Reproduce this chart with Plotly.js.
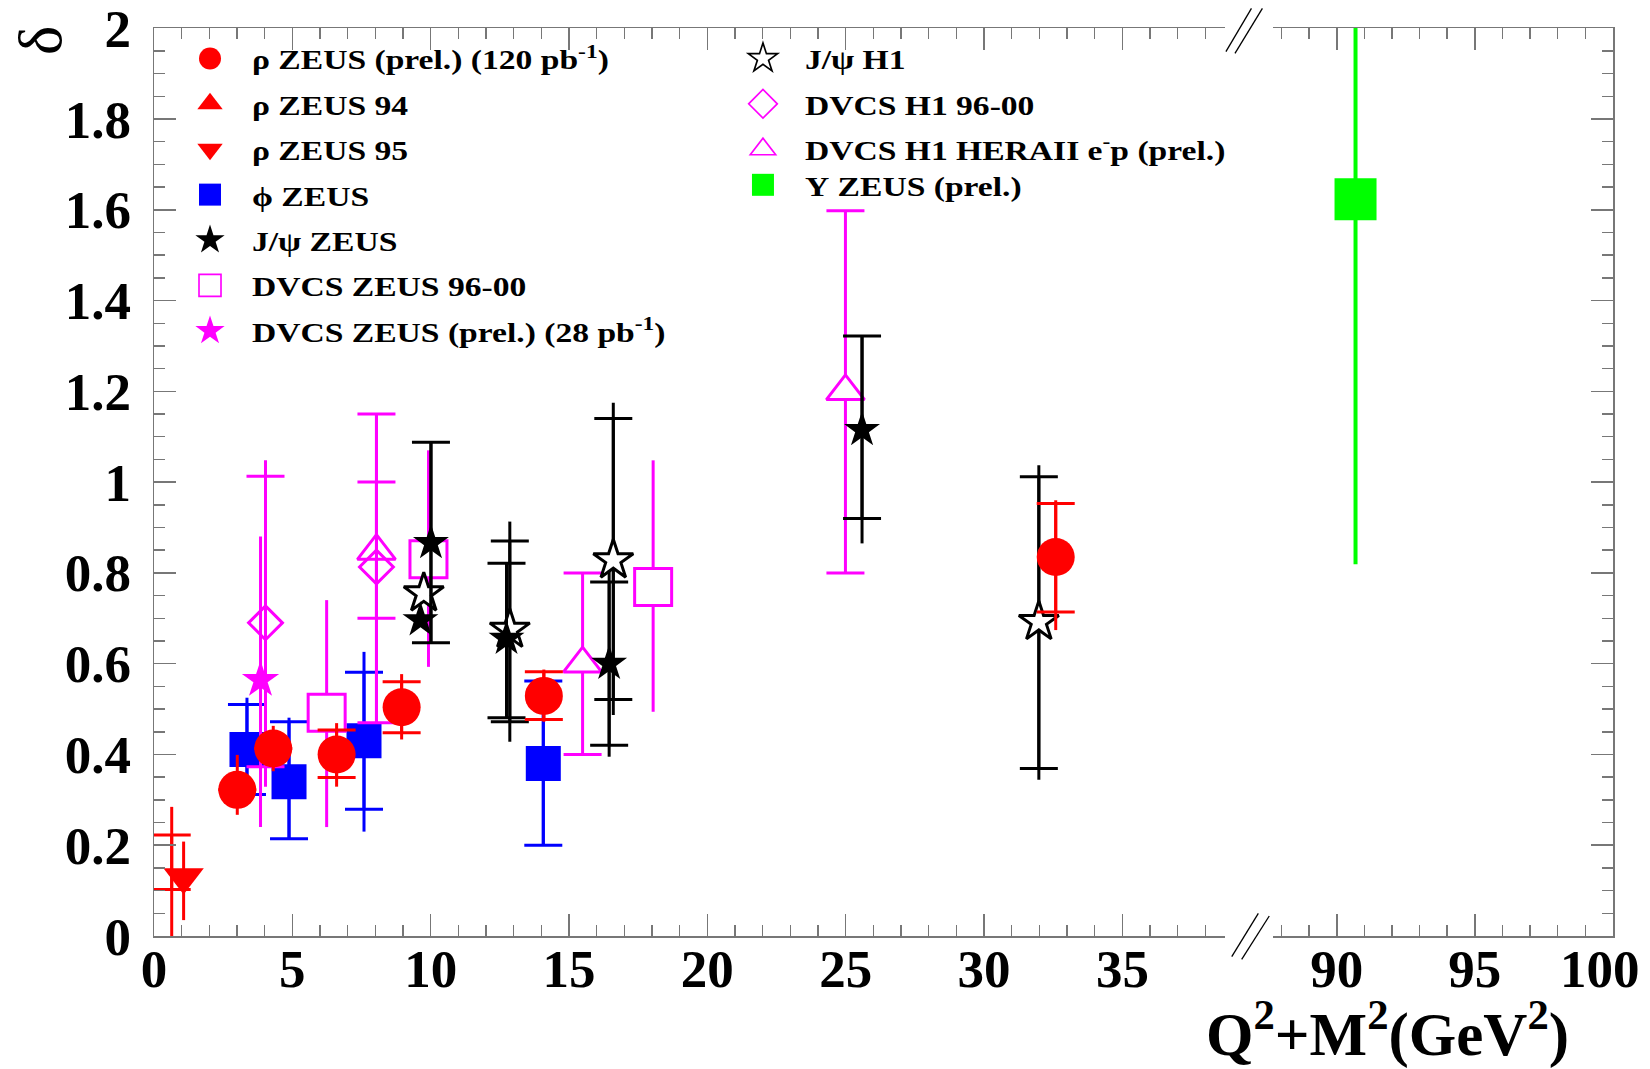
<!DOCTYPE html>
<html>
<head>
<meta charset="utf-8">
<script src="https://cdn.plot.ly/plotly-3.0.1.min.js"></script>
<style>
html, body { margin: 0; padding: 0; background: #ffffff; }
#chart { width: 1650px; height: 1069px; }
/* the reference legend lettering is set wider than plain Times */
#chart .legendtext, #chart .legend2text, #chart .legend3text {
  transform-box: fill-box; transform-origin: 0% 50%; transform: scaleX(1.2);
}
#chart .scrollbox, #chart .infolayer g[clip-path] { clip-path: none !important; }
/* larger legend symbols, as in the reference */
#chart .legendpoints path.scatterpts { transform: translate(42px, 0px) scale(1.375) !important; }
</style>
</head>
<body>
<div id="chart"></div>
<script>
// ---------------- data ----------------
// rho ZEUS (prel.) (120 pb^-1)
const rhoPrelX      = [3.01, 4.31, 6.60, 8.95, 14.09, 32.59];
const rhoPrelY      = [0.322, 0.413, 0.400, 0.504, 0.529, 0.835];
const rhoPrelStatUp = [0, 0, 0.054, 0.056, 0.053, 0.118];
const rhoPrelStatDn = [0, 0, 0.051, 0.056, 0.052, 0.121];
const rhoPrelTotUp  = [0.077, 0.050, 0.069, 0.073, 0.058, 0.125];
const rhoPrelTotDn  = [0.055, 0.050, 0.071, 0.071, 0.057, 0.161];

// rho ZEUS 94
const rho94X      = [0.64];
const rho94Y      = [0.1625];
const rho94StatUp = [0.060];
const rho94StatDn = [0.060];
const rho94TotUp  = [0.122];
const rho94TotDn  = [0.170];

// rho ZEUS 95
const rho95X     = [1.07];
const rho95Y     = [0.130];
const rho95TotUp = [0.078];
const rho95TotDn = [0.095];

// phi ZEUS
const phiX      = [3.36, 4.88, 7.59, 14.07];
const phiY      = [0.411, 0.340, 0.430, 0.380];
const phiStatUp = [0.099, 0.132, 0.151, 0.182];
const phiStatDn = [0.099, 0.126, 0.151, 0.180];
const phiTotUp  = [0.114, 0.141, 0.196, 0.182];
const phiTotDn  = [0.114, 0.126, 0.200, 0.180];

// J/psi ZEUS
const jpsiZX      = [9.63, 10.01, 12.74, 16.45, 25.59];
const jpsiZY      = [0.696, 0.866, 0.655, 0.600, 1.115];
const jpsiZStatUp = [NaN, 0.222, 0.166, 0.180, 0.207];
const jpsiZStatDn = [NaN, 0.220, 0.174, 0.180, 0.195];
const jpsiZTotUp  = [NaN, 0.222, 0.166, 0.205, 0.207];
const jpsiZTotDn  = [NaN, 0.220, 0.174, 0.205, 0.250];

// J/psi H1
const jpsiHX      = [9.75, 12.86, 16.60, 31.98];
const jpsiHY      = [0.755, 0.675, 0.828, 0.692];
const jpsiHStatUp = [NaN, 0.195, 0.312, 0.320];
const jpsiHStatDn = [NaN, 0.203, 0.307, 0.323];
const jpsiHTotUp  = [NaN, 0.238, 0.347, 0.345];
const jpsiHTotDn  = [NaN, 0.247, 0.341, 0.348];

// DVCS ZEUS 96-00
const dvcsZX     = [6.24, 9.92, 18.04];
const dvcsZY     = [0.492, 0.830, 0.769];
const dvcsZTotUp = [0.248, 0.240, 0.279];
const dvcsZTotDn = [0.252, 0.237, 0.275];

// DVCS ZEUS (prel.) (28 pb^-1)
const dvcsZPX     = [3.85];
const dvcsZPY     = [0.564];
const dvcsZPTotUp = [0.316];
const dvcsZPTotDn = [0.324];

// DVCS H1 96-00
const dvcsHX      = [4.03, 8.04];
const dvcsHY      = [0.690, 0.813];
const dvcsHStatUp = [0.323, 0.337];
const dvcsHStatDn = [0.317, 0.343];
const dvcsHTotUp  = [0.358, 0.337];
const dvcsHTotDn  = [0.361, 0.343];

// DVCS H1 HERAII e-p (prel.)
const dvcsH2X      = [8.04, 15.49, 24.99];
const dvcsH2Y      = [0.848, 0.600, 1.200];
const dvcsH2StatUp = [0.152, 0.200, 0.398];
const dvcsH2StatDn = [0.148, 0.200, 0.400];

// Upsilon ZEUS (prel.)
const upsX     = [90.68];
const upsY     = [1.623];
const upsTotUp = [0.804];
const upsTotDn = [0.804];

// tick labels of the right-hand x segment
const x2TickVals = [90, 95, 100];
const x2TickText = ['90', '95', '100\u00a0\u00a0'];

// legend labels
const labels = {
  rhoPrel: 'ρ ZEUS (prel.) (120 pb<sup>-1</sup>)',
  rho94:   'ρ ZEUS 94',
  rho95:   'ρ ZEUS 95',
  phi:     'ϕ ZEUS',
  jpsiZ:   'J/ψ ZEUS',
  dvcsZ:   'DVCS ZEUS 96-00',
  dvcsZP:  'DVCS ZEUS (prel.) (28 pb<sup>-1</sup>)',
  jpsiH:   'J/ψ H1',
  dvcsH:   'DVCS H1 96-00',
  dvcsH2:  'DVCS H1 HERAII e<sup>-</sup>p (prel.)',
  ups:     'Υ ZEUS (prel.)'
};

// ---------------- styling ----------------
const RED = '#ff0000', BLUE = '#0000ff', MAG = '#ff00ff', GREEN = '#00ff00', BLACK = '#000000';
const FONT = 'Liberation Serif, Times New Roman, serif';
const CAP = 19;
const TH = 3;

function pair(x, y, statUp, statDn, totUp, totDn, st, xa, ya) {
  const out = [];
  if (totUp) {
    out.push({
      type: 'scatter', mode: 'markers', x: x, y: y, xaxis: xa || 'x', yaxis: ya || 'y',
      showlegend: false, hoverinfo: 'skip',
      marker: { size: 4, opacity: 0 },
      error_y: { type: 'data', symmetric: false, array: totUp, arrayminus: totDn,
                 width: 0, thickness: st.thick || TH, color: st.ecolor }
    });
  }
  const t = {
    type: 'scatter', mode: 'markers', x: x, y: y, xaxis: xa || 'x', yaxis: ya || 'y',
    showlegend: false, hoverinfo: 'x+y',
    marker: { symbol: st.symbol, size: st.size, color: st.fill,
              line: { color: st.lcolor || st.fill, width: st.lwidth || 0 } }
  };
  if (statUp) {
    t.error_y = { type: 'data', symmetric: false, array: statUp, arrayminus: statDn,
                  width: CAP, thickness: st.thick || TH, color: st.ecolor };
  }
  out.push(t);
  return out;
}

const S = {
  rhoPrel: { symbol: 'circle', size: 38, fill: RED, ecolor: RED },
  rho94:   { symbol: 'triangle-up', size: 32, fill: RED, ecolor: RED },
  rho95:   { symbol: 'triangle-down', size: 35, fill: RED, ecolor: RED },
  phi:     { symbol: 'square', size: 35, fill: BLUE, ecolor: BLUE },
  jpsiZ:   { symbol: 'star', size: 27, fill: BLACK, ecolor: BLACK },
  jpsiH:   { symbol: 'star', size: 30, fill: '#ffffff', lcolor: BLACK, lwidth: 3, ecolor: BLACK },
  dvcsZ:   { symbol: 'square', size: 37, fill: '#ffffff', lcolor: MAG, lwidth: 3, ecolor: MAG },
  dvcsZP:  { symbol: 'star', size: 28, fill: MAG, ecolor: MAG },
  dvcsH:   { symbol: 'diamond-open', size: 26, fill: MAG, lcolor: MAG, lwidth: 3, ecolor: MAG },
  dvcsH2:  { symbol: 'triangle-up', size: 33, fill: '#ffffff', lcolor: MAG, lwidth: 3, ecolor: MAG },
  ups:     { symbol: 'square', size: 42, fill: GREEN, ecolor: GREEN, thick: 4 }
};

let traces = [];
traces = traces.concat(pair(phiX, phiY, phiStatUp, phiStatDn, phiTotUp, phiTotDn, S.phi));
traces = traces.concat(pair(dvcsZX, dvcsZY, null, null, dvcsZTotUp, dvcsZTotDn, S.dvcsZ));
traces = traces.concat(pair(dvcsH2X, dvcsH2Y, dvcsH2StatUp, dvcsH2StatDn, null, null, S.dvcsH2));
traces = traces.concat(pair(dvcsHX, dvcsHY, dvcsHStatUp, dvcsHStatDn, dvcsHTotUp, dvcsHTotDn, S.dvcsH));
traces = traces.concat(pair(dvcsZPX, dvcsZPY, null, null, dvcsZPTotUp, dvcsZPTotDn, S.dvcsZP));
traces = traces.concat(pair(jpsiHX, jpsiHY, jpsiHStatUp, jpsiHStatDn, jpsiHTotUp, jpsiHTotDn, S.jpsiH));
traces = traces.concat(pair(jpsiZX, jpsiZY, jpsiZStatUp, jpsiZStatDn, jpsiZTotUp, jpsiZTotDn, S.jpsiZ));
traces = traces.concat(pair(rho95X, rho95Y, null, null, rho95TotUp, rho95TotDn, S.rho95));
// rho ZEUS 94: only its error bars are visible in the reference
traces = traces.concat(pair(rho94X, rho94Y, rho94StatUp, rho94StatDn, rho94TotUp, rho94TotDn,
                            Object.assign({}, S.rho94, { size: 1, fill: 'rgba(0,0,0,0)' })));
traces = traces.concat(pair(rhoPrelX, rhoPrelY, rhoPrelStatUp, rhoPrelStatDn, rhoPrelTotUp, rhoPrelTotDn, S.rhoPrel));
traces = traces.concat(pair(upsX, upsY, null, null, upsTotUp, upsTotDn, S.ups, 'x2', 'y2'));

// legend entries
function legendEntry(key, legendId) {
  const st = S[key];
  return {
    type: 'scatter', mode: 'markers', x: [null], y: [null], name: labels[key],
    legend: legendId, legendgroup: key, showlegend: true, hoverinfo: 'skip',
    marker: { symbol: st.symbol, size: 16, color: st.fill,
              line: { color: st.lcolor || st.fill, width: st.lwidth ? 1.2 : 0 } }
  };
}
['rhoPrel', 'rho94', 'rho95', 'phi', 'jpsiZ', 'dvcsZ', 'dvcsZP'].forEach(k => traces.push(legendEntry(k, 'legend')));
['jpsiH', 'dvcsH', 'dvcsH2'].forEach(k => traces.push(legendEntry(k, 'legend2')));
['ups'].forEach(k => traces.push(legendEntry(k, 'legend3')));

// ---------------- layout ----------------
const AXC = '#777777';
const tickFont = { family: FONT, size: 53, weight: 'bold', color: '#000' };
const xCommon = {
  showline: true, linecolor: AXC, linewidth: 1.5, mirror: 'ticks',
  ticks: 'inside', ticklen: 22, tickwidth: 1.5, tickcolor: AXC,
  minor: { ticks: 'inside', ticklen: 11, tickmode: 'linear', tick0: 0, dtick: 1, tickcolor: AXC, tickwidth: 1.5 },
  showgrid: false, zeroline: false, tickfont: tickFont, ticklabelstandoff: -14,
  ticklabeloverflow: 'allow', fixedrange: true
};
const yCommon = {
  domain: [0, 1], range: [0, 2.0005], showline: true, linecolor: AXC, linewidth: 1.5,
  ticks: 'inside', ticklen: 22, tickwidth: 1.5, tickcolor: AXC,
  tick0: 0, dtick: 0.2,
  minor: { ticks: 'inside', ticklen: 11, dtick: 0.05, tickcolor: AXC, tickwidth: 1.5 },
  showgrid: false, zeroline: false, tickfont: tickFont, ticklabeloverflow: 'allow', fixedrange: true
};
const legendCommon = {
  xref: 'paper', yref: 'paper', xanchor: 'left', yanchor: 'top',
  bgcolor: 'rgba(0,0,0,0)', borderwidth: 0, itemwidth: 74, tracegroupgap: 6,
  font: { family: FONT, size: 28, weight: 'bold', color: '#000' },
  itemclick: false, itemdoubleclick: false
};

const layout = {
  width: 1650, height: 1069,
  margin: { l: 154, r: 37, t: 28, b: 133 },
  paper_bgcolor: '#ffffff', plot_bgcolor: 'rgba(0,0,0,0)',
  showlegend: true,
  xaxis: Object.assign({}, xCommon, { domain: [0, 0.7341], range: [0, 38.71], anchor: 'y',
                                       tickmode: 'linear', tick0: 0, dtick: 5 }),
  xaxis2: Object.assign({}, xCommon, { domain: [0.7673, 1], range: [87.71, 100.001], anchor: 'y2',
                                        tickmode: 'array', tickvals: x2TickVals, ticktext: x2TickText }),
  yaxis: Object.assign({}, yCommon, { anchor: 'x', side: 'left', ticklabelstandoff: 11 }),
  yaxis2: Object.assign({}, yCommon, { anchor: 'x2', side: 'right', showticklabels: false }),
  legend:  Object.assign({}, legendCommon, { x: 0.0096, y: 0.9937 }),
  legend2: Object.assign({}, legendCommon, { x: 0.3886, y: 0.9937 }),
  legend3: Object.assign({}, legendCommon, { x: 0.3886, y: 0.8545 }),
  annotations: [
    { text: 'δ', xref: 'paper', yref: 'paper', x: -0.0781, y: 0.9857, textangle: -90,
      showarrow: false, xanchor: 'center', yanchor: 'middle',
      font: { family: FONT, size: 62, color: '#000' } },
    { text: 'Q<sup>2</sup>+M<sup>2</sup>(GeV<sup>2</sup>)', xref: 'paper', yref: 'paper',
      x: 0.9712, y: -0.1035, xanchor: 'right', yanchor: 'middle', showarrow: false,
      font: { family: FONT, size: 61, weight: 'bold', color: '#000' } }
  ],
  shapes: [
    // axis-break marks, top
    { type: 'line', xref: 'paper', yref: 'paper', x0: 0.7347, y0: 0.9739, x1: 0.7522, y1: 1.0217, line: { color: '#000', width: 1.3 }, layer: 'above' },
    { type: 'line', xref: 'paper', yref: 'paper', x0: 0.7409, y0: 0.9721, x1: 0.7597, y1: 1.0217, line: { color: '#000', width: 1.3 }, layer: 'above' },
    // axis-break marks, bottom
    { type: 'line', xref: 'paper', yref: 'paper', x0: 0.7387, y0: -0.0228, x1: 0.7569, y1: 0.0250, line: { color: '#000', width: 1.3 }, layer: 'above' },
    { type: 'line', xref: 'paper', yref: 'paper', x0: 0.7455, y0: -0.0257, x1: 0.7644, y1: 0.0220, line: { color: '#000', width: 1.3 }, layer: 'above' }
  ]
};

Plotly.newPlot('chart', traces, layout, { displayModeBar: false, staticPlot: true });
</script>
</body>
</html>
